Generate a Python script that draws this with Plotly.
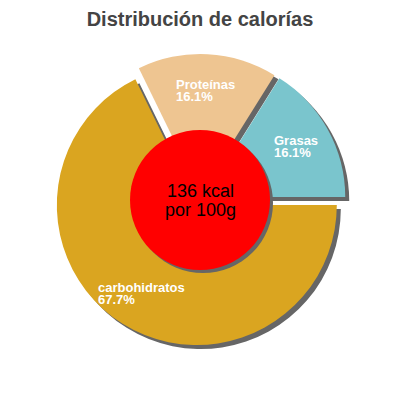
import math
import plotly.graph_objects as go

title = "Distribución de calorías"
labels = ["Grasas", "Proteínas", "carbohidratos"]
values = [16.1, 16.1, 67.7]
colors = ["#7AC5CD", "#EEC591", "#DAA520"]
center_lines = ["136 kcal", "por 100g"]

W = H = 400
page_off = 8           # the page adds an 8px body margin, compensate for it
cx, cy = 200, 200      # pie centre in pixels (from top-left of the window)
r = 140                # pie radius
pull_px = 6            # how far every slice is pulled out
shadow = 4             # shadow offset
hole_r = 70            # red disc radius
label_dist = 110
font = "Liberation Sans, Arial, sans-serif"


def fx(x):
    return (x - page_off) / W


def fy(y):
    return 1 - (y - page_off) / H


pull = pull_px / r
half = r + pull_px
total = sum(values)
# plotly puts the END of the first slice at `rotation` when counterclockwise,
# so shift it so the first slice starts at 3 o'clock
rotation = 90 - values[0] / total * 360


def pie(dx, dy, fill):
    return go.Pie(
        labels=labels, values=values, sort=False,
        direction="counterclockwise", rotation=rotation,
        pull=[pull] * len(values),
        marker=dict(colors=fill, line=dict(width=0)),
        textinfo="none", hoverinfo="skip", showlegend=False,
        domain=dict(x=[fx(cx - half + dx), fx(cx + half + dx)],
                    y=[fy(cy + half + dy), fy(cy - half + dy)]),
    )


fig = go.Figure()
# shadow first, then the slices
fig.add_trace(pie(shadow, shadow, ["#666666"] * len(values)))
fig.add_trace(pie(0, 0, colors))

# red disc in the middle, with its own shadow
for off, col in [(3, "#666666"), (0, "#FF0000")]:
    fig.add_shape(type="circle", xref="paper", yref="paper",
                  x0=fx(cx - hole_r + off), x1=fx(cx + hole_r + off),
                  y0=fy(cy + hole_r + off), y1=fy(cy - hole_r + off),
                  fillcolor=col, line=dict(width=0))

annotations = []
start = 0.0
for lab, v in zip(labels, values):
    mid = math.radians((start + v / 2) / total * 360)
    start += v
    x = cx + label_dist * math.cos(mid)
    y = cy - label_dist * math.sin(mid)
    txt = (f'<span style="font-size:13px"><b>{lab}</b></span><br>'
           f'<span style="font-size:13px"><b>{v}%</b></span>')
    annotations.append(dict(x=fx(x), y=fy(y), xref="paper", yref="paper",
                            text=txt, showarrow=False, align="left",
                            xanchor="center", yanchor="middle",
                            font=dict(family=font, size=9.5, color="#FFFFFF")))

annotations.append(dict(
    x=fx(cx), y=fy(cy), xref="paper", yref="paper", showarrow=False,
    text="<br>".join(f'<span style="font-size:18px">{t}</span>' for t in center_lines),
    xanchor="center", yanchor="middle", align="center",
    font=dict(family=font, size=14.6, color="#000000")))

fig.update_layout(
    width=W, height=H,
    margin=dict(l=0, r=0, t=0, b=0),
    paper_bgcolor="white", plot_bgcolor="white",
    title=dict(text=title, x=fx(200), xanchor="center", y=fy(19), yanchor="middle",
               font=dict(family=font, size=20, color="#444444", weight="bold")),
    annotations=annotations,
)

fig.write_html("out.html")
